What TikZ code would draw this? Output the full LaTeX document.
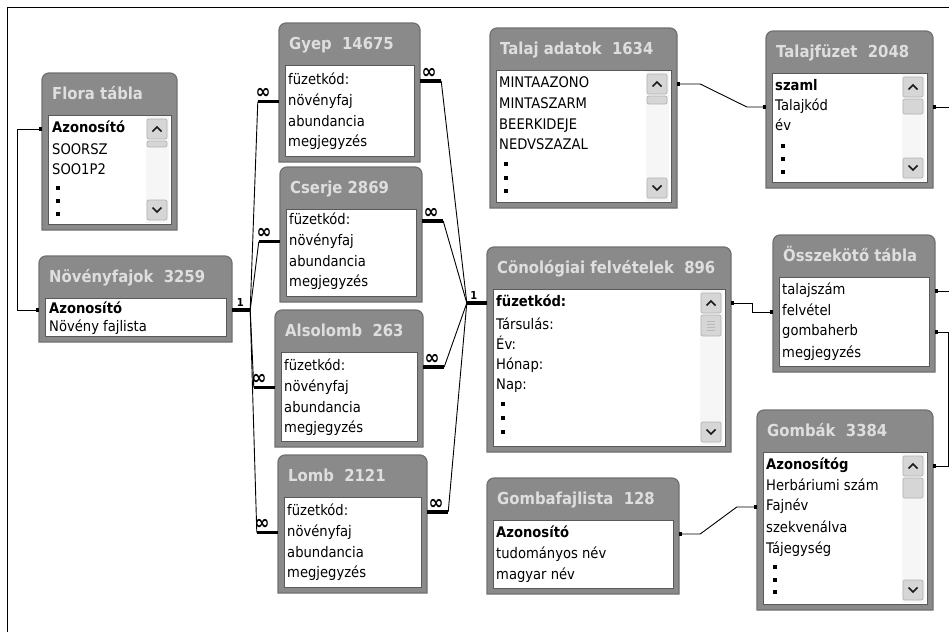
\documentclass[tikz,border=0pt]{standalone}
\usepackage{fontspec}
\setmainfont{DejaVu Sans}[FakeStretch=0.9]
\usepackage{tikz}
\usetikzlibrary{arrows.meta}
\usetikzlibrary{calc}
\usetikzlibrary{fit}
\definecolor{fejszin}{RGB}{138,138,138}
\definecolor{keretszin}{RGB}{112,112,112}
\definecolor{cimszin}{RGB}{222,222,222}
\definecolor{gombszin}{RGB}{214,214,214}

% tabla: nev, bal, fent, jobb, lent, cim
\newcommand{\tabla}[6]{%
  \draw[doboz] (#2,#5) [rounded corners=7pt] -- (#2,#3) -- (#4,#3) [sharp corners] -- (#4,#5) -- cycle;
  \draw[lista] (#2+6,#3+42) rectangle (#4-6,#5-6);
  \node[cim] (#1-cim) at (#2+10,#3+24) {#6};
  \node[fit={(#2,#3) (#4,#5)}, inner sep=0pt] (#1) {};
}
% gorgetosav: lista jobb szele, lista teteje, lista alja, csuszka magassaga
\newcommand{\gorgeto}[4]{%
  \fill[gray!7] (#1-25,#2+1) rectangle (#1-2,#3-1);
  \draw[gomb] (#1-24,#2+4) rectangle (#1-4,#2+24);
  \draw[nyil] (#1-18.5,#2+16.5) -- (#1-14,#2+12) -- (#1-9.5,#2+16.5);
  \draw[gomb] (#1-24,#2+26) rectangle (#1-4,#2+26+#4);
  \draw[gomb] (#1-24,#3-24) rectangle (#1-4,#3-4);
  \draw[nyil] (#1-18.5,#3-16.5) -- (#1-14,#3-12) -- (#1-9.5,#3-16.5);
}
\newcommand{\pontok}[4]{%
  \foreach \py in {#2,#3,#4} \fill (#1-1.6,\py-1.6) rectangle ++(3.2,3.2);
}

\begin{document}
\begin{tikzpicture}[x=1pt,y=-1pt,
  doboz/.style={fill=fejszin, draw=keretszin, line width=1.2pt},
  lista/.style={fill=white, draw=gray!70!black, line width=0.9pt},
  cim/.style={anchor=mid west, inner sep=0pt, text=cimszin, font=\fontsize{16.5}{18}\bfseries},
  mezo/.style={anchor=mid west, inner sep=0pt, text height=10.5pt, text depth=3pt, font=\fontsize{14.6}{16}\selectfont},
  kapcs/.style={line width=0.9pt},
  veg/.style={kapcs, {Square[length=3pt,width=3pt]}-{Square[length=3pt,width=3pt]}},
  sok/.style={line width=3.4pt},
  kard/.style={above=1pt, inner sep=0pt, font=\fontsize{20}{20}\bfseries},
  egyes/.style={above=2pt, inner sep=0pt, font=\fontsize{11}{11}\bfseries},
  gomb/.style={fill=gombszin, draw=gray!60, rounded corners=2pt, line width=0.7pt},
  nyil/.style={draw=gray!20!black, line width=1.5pt}]
\useasboundingbox (0,0) rectangle (949,632);
\draw[line width=1pt] (949,7) -- (7,7) -- (7,632);

% tablak
\tabla{flora}{42}{73}{177}{230}{Flora tábla}
\tabla{nov}{39}{256}{232}{342}{Növényfajok~~3259}
\tabla{gyep}{279}{23}{420}{162}{Gyep~~14675}
\tabla{cserje}{280}{167}{422}{302}{Cserje 2869}
\tabla{also}{275}{310}{423}{447}{Alsolomb~~263}
\tabla{lomb}{278}{455}{427}{593}{Lomb~~2121}
\tabla{talaj}{490}{28}{677}{208}{Talaj adatok~~1634}
\tabla{tfuz}{766}{31}{933}{188}{Talajfüzet~~2048}
\tabla{cono}{487}{247}{731}{452}{Cönológiai felvételek~~896}
\tabla{ossz}{773}{235}{935}{372}{Összekötő tábla}
\tabla{gomb}{757}{410}{933}{610}{Gombák~~3384}
\tabla{gfl}{487}{478}{679}{594}{Gombafajlista~~128}

% mezok
\foreach \y/\t [count=\i] in {130/\textbf{Azonosító}, 152/SOORSZ, 172/SOO1P2}
  \node[mezo] (flora-\i) at (52,\y) {\t};
\pontok{58}{188}{201}{214}
\gorgeto{171}{115}{224}{6}

\foreach \y/\t [count=\i] in {311/\textbf{Azonosító}, 329/Növény fajlista}
  \node[mezo] (nov-\i) at (49,\y) {\t};

\foreach \n/\x/\y in {gyep/288/82, cserje/289/222, also/284/368, lomb/287/513}{
  \foreach \t [count=\i] in {füzetkód:, növényfaj, abundancia, megjegyzés}
    \node[mezo] (\n-\i) at (\x,\y+20.7*\i-20.7) {\t};
}

\foreach \y/\t [count=\i] in {85/MINTAAZONO, 106/MINTASZARM, 127/BEERKIDEJE, 147/NEDVSZAZAL}
  \node[mezo] (talaj-\i) at (499,\y) {\t};
\pontok{506}{164}{178}{191}
\gorgeto{671}{70}{202}{8}

\foreach \y/\t [count=\i] in {88/\textbf{szaml}, 108/Talajkód, 128/év}
  \node[mezo] (tfuz-\i) at (775,\y) {\t};
\pontok{783}{146}{159}{172}
\gorgeto{927}{73}{182}{15}

\foreach \y/\t [count=\i] in {304/\textbf{füzetkód:}, 327/Társulás:, 347/Év:, 367/Hónap:, 387/Nap:}
  \node[mezo] (cono-\i) at (496,\y) {\t};
\pontok{503}{404}{418}{432}
\gorgeto{725}{289}{446}{21}
\foreach \gy in {-4.5,-1.5,1.5,4.5}
  \draw[gray!55, line width=0.6pt] (707,325.5+\gy) -- (715,325.5+\gy);

\foreach \y/\t [count=\i] in {292/talajszám, 313/felvétel, 333/gombaherb, 355/megjegyzés}
  \node[mezo] (ossz-\i) at (782,\y) {\t};

\foreach \y/\t [count=\i] in {467/\textbf{Azonosítóg}, 488/Herbáriumi szám, 508/Fajnév, 530/szekvenálva, 551/Tájegység}
  \node[mezo] (gomb-\i) at (766,\y) {\t};
\pontok{775}{567}{580}{592}
\gorgeto{927}{452}{604}{20}

\foreach \y/\t [count=\i] in {535/\textbf{Azonosító}, 556/tudományos név, 577/magyar név}
  \node[mezo] (gfl-\i) at (496,\y) {\t};

% kapcsolatok
\draw[veg] (flora.west |- flora-1) -- ++(-24,0) |- (nov.west |- nov-1);

\draw[sok] (nov.east |- nov-1) -- node[egyes,pos=0.45] (nov-k) {1} ++(18,0) coordinate (nov-r);
\draw[sok] (cono.west |- cono-1) -- node[egyes,pos=0.65] (cono-k) {1} ++(-20,0) coordinate (cono-l);
\foreach \n in {gyep,cserje,also,lomb}{
  \draw[sok] (\n.west |- \n-2) -- node[kard,pos=0.75] (\n-kb) {∞} ++(-21,0) coordinate (\n-l);
  \draw[sok] (\n.east |- \n-1) -- node[kard,pos=0.42] (\n-kj) {∞} ++(21,0) coordinate (\n-r);
  \draw[kapcs] (nov-r) -- (\n-l);
  \draw[kapcs] (\n-r) -- (cono-l);
}

\draw[veg] (talaj.east |- talaj-1) -- ++(23,0) -- ($(tfuz.west |- tfuz-2)+(-19,0)$) -- (tfuz.west |- tfuz-2);
\draw[veg] (cono.east |- cono-1) -| ($(ossz.west |- ossz-2)+(-20,0)$) -- (ossz.west |- ossz-2);
\draw[veg] (ossz.east |- ossz-3) -- ++(13,0) |- (gomb.east |- gomb-1);
\draw[veg] (gfl.east |- gfl-1) -- ++(21,0) -- ($(gomb.west |- gomb-3)+(-20,0)$) -- (gomb.west |- gomb-3);

\coordinate (szel) at (949,0);
\draw[kapcs, {Square[length=3pt,width=3pt]}-] (tfuz.east |- tfuz-2) -- (szel |- tfuz-2);
\draw[kapcs, {Square[length=3pt,width=3pt]}-] (ossz.east |- ossz-1) -- (szel |- ossz-1);
\end{tikzpicture}
\end{document}
